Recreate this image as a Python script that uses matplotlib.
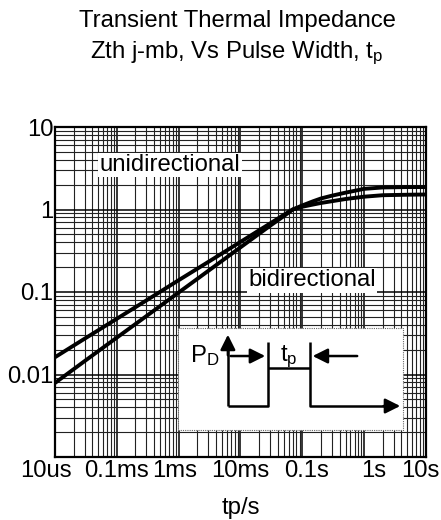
import matplotlib
matplotlib.use("Agg")
import matplotlib.pyplot as plt
import matplotlib.transforms as mtransforms
from matplotlib.ticker import FixedLocator, LogLocator, NullFormatter, FixedFormatter

plt.rcParams['font.family'] = ['Liberation Sans', 'DejaVu Sans']
plt.rcParams['mathtext.fontset'] = 'custom'
plt.rcParams['mathtext.rm'] = 'Liberation Sans'
plt.rcParams['mathtext.it'] = 'Liberation Sans'

# ---- data ----
t_pulse = [1e-5, 3e-5, 1e-4, 3e-4, 1e-3, 3e-3, 1e-2, 3e-2, 0.05, 0.07, 0.1, 0.15,
           0.2, 0.3, 0.5, 1, 2, 5, 10]
zth_bi = [0.0162, 0.0271, 0.0474, 0.079, 0.139, 0.231, 0.405, 0.676, 0.86, 1.0, 1.08, 1.15,
          1.2, 1.26, 1.34, 1.43, 1.49, 1.51, 1.52]
zth_uni = [0.0079, 0.0145, 0.028, 0.051, 0.0986, 0.18, 0.348, 0.634, 0.83, 1.0, 1.12, 1.26,
           1.36, 1.47, 1.6, 1.78, 1.85, 1.87, 1.87]

x_ticks = [1e-5, 1e-4, 1e-3, 1e-2, 1e-1, 1, 10]
x_labels = ["10us", "0.1ms", "1ms", "10ms", "0.1s", "1s", "10s"]
y_ticks = [0.01, 0.1, 1, 10]
y_labels = ["0.01", "0.1", "1", "10"]

FS = 17.2

fig = plt.figure(figsize=(4.41, 5.20), dpi=100)
ax = fig.add_axes([55/441, 1-457/520, 371/441, 330/520])
ax.set_xscale('log')
ax.set_yscale('log')
ax.set_xlim(1e-5, 10)
ax.set_ylim(1e-3, 10)

ax.plot(t_pulse, zth_bi, color='black', lw=2.8, zorder=5, solid_capstyle='butt')
ax.plot(t_pulse, zth_uni, color='black', lw=2.8, zorder=5, solid_capstyle='butt')

ax.xaxis.set_major_locator(FixedLocator(x_ticks))
ax.xaxis.set_major_formatter(FixedFormatter(x_labels))
ax.yaxis.set_major_locator(FixedLocator(y_ticks))
ax.yaxis.set_major_formatter(FixedFormatter(y_labels))
ax.xaxis.set_minor_locator(LogLocator(base=10, subs=range(2, 10), numticks=100))
ax.yaxis.set_minor_locator(LogLocator(base=10, subs=range(2, 10), numticks=100))
ax.xaxis.set_minor_formatter(NullFormatter())
ax.yaxis.set_minor_formatter(NullFormatter())
ax.tick_params(which='both', length=0)
ax.tick_params(axis='x', labelsize=FS, pad=2)
ax.tick_params(axis='y', labelsize=FS, pad=1)

# nudge x tick labels like the reference
x_shift_px = [-9, 0, -4, 0, 4, 10, -6]
for lab, dx in zip(ax.get_xticklabels(), x_shift_px):
    lab.set_transform(lab.get_transform() +
                      mtransforms.ScaledTranslation(dx/100, 0, fig.dpi_scale_trans))

ax.grid(True, which='major', color='black', lw=1.1)
ax.grid(True, which='minor', color='#222222', lw=0.8)
ax.set_axisbelow(True)
for s in ax.spines.values():
    s.set_linewidth(1.6)

ax.set_xlabel("tp/s", fontsize=FS)
ax.xaxis.set_label_coords(0.5, (457-497)/330)

fig.text(237/441, 1-21/520, "Transient Thermal Impedance", ha='center', va='center', fontsize=FS)
fig.text(237/441, 1-53/520, r"Zth j-mb, Vs Pulse Width, t$_{\rm p}$", ha='center', va='center', fontsize=FS)

ax.text(0.31, 0.885, "unidirectional", transform=ax.transAxes, ha='center', va='center',
        fontsize=FS, zorder=6, bbox=dict(facecolor='white', edgecolor='none', pad=1))
ax.text(0.693, 0.536, "bidirectional", transform=ax.transAxes, ha='center', va='center',
        fontsize=FS, zorder=6, bbox=dict(facecolor='white', edgecolor='none', pad=1))

# inset pulse diagram
T = ax.transAxes
box = plt.Rectangle((0.3315, 0.0818), 0.938-0.3315, 0.391-0.0818, transform=T,
                    facecolor='white', edgecolor='#666666', lw=0.8, ls=(0, (1, 1)), zorder=7)
ax.add_patch(box)
lk = dict(color='black', lw=1.8, transform=T, zorder=8, solid_capstyle='butt')
xa, xb, xc, xd = 0.466, 0.574, 0.687, 0.938
yb, yt, ym, yl = 0.1545, 0.348, 0.27, 0.306
ax.plot([xa, xb, xb], [yb, yb, yt], **lk)
ax.plot([xb, xc], [ym, ym], **lk)
ax.plot([xc, xc, xd - 0.04], [yt, yb, yb], **lk)
ax.plot([xa, xa], [yb, 0.33], **lk)
ak = dict(arrowstyle='-|>,head_length=0.9,head_width=0.45', color='black', lw=1.8)
ax.annotate("", xy=(xa, 0.379), xytext=(xa, 0.3), xycoords=T, textcoords=T,
            arrowprops=ak, zorder=8)
ax.annotate("", xy=(xd, yb), xytext=(xd - 0.06, yb), xycoords=T, textcoords=T,
            arrowprops=ak, zorder=8)
ax.annotate("", xy=(xb, yl), xytext=(xa, yl), xycoords=T, textcoords=T,
            arrowprops=ak, zorder=8)
ax.annotate("", xy=(xc, yl), xytext=(0.822, yl), xycoords=T, textcoords=T,
            arrowprops=ak, zorder=8)
ax.text(0.404, 0.306, r"P$_{\rm D}$", transform=T, ha='center', va='center', fontsize=FS, zorder=9)
ax.text(0.631, 0.303, r"t$_{\rm p}$", transform=T, ha='center', va='center', fontsize=FS, zorder=9)

fig.savefig("out.png", dpi=100)
